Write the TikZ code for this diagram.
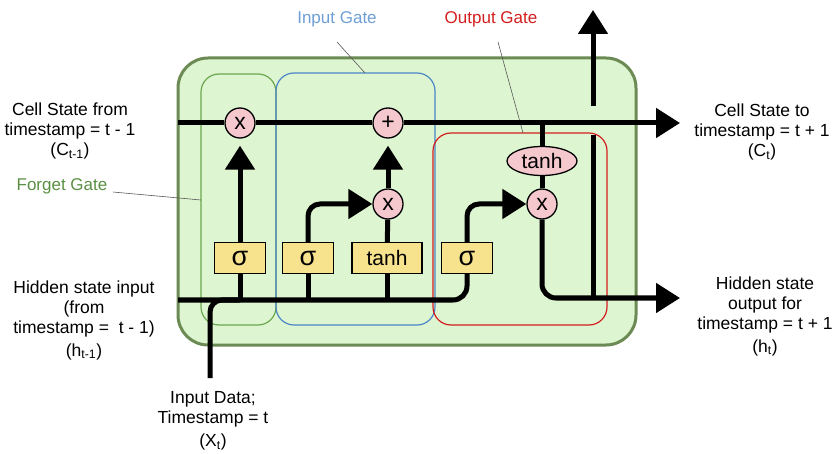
\documentclass[tikz,border=0pt]{standalone}
\usepackage{fontspec}
\setmainfont{Liberation Sans}
\usetikzlibrary{arrows.meta,shapes.geometric}

\definecolor{cellfill}{RGB}{222,245,209}
\definecolor{cellline}{RGB}{108,138,84}
\definecolor{forgetc}{RGB}{106,168,79}
\definecolor{inputc}{RGB}{74,134,200}
\definecolor{outputc}{RGB}{210,30,30}
\definecolor{oppink}{RGB}{245,200,205}
\definecolor{actyellow}{RGB}{247,226,142}

\tikzset{
  wire/.style={line width=5pt},
  arr/.style={-{Triangle[length=24pt,width=29pt]}},
  op/.style={circle,draw,line width=1.3pt,fill=oppink,minimum size=30pt,inner sep=0pt,
    font=\fontsize{23}{23}\selectfont},
  act/.style={rectangle,draw,line width=1.3pt,fill=actyellow,minimum height=31pt,inner sep=0pt,
    font=\fontsize{27}{27}\selectfont},
  lbl/.style={align=center,font=\fontsize{17.5}{20}\selectfont},
  gatelbl/.style={font=\fontsize{17}{17}\selectfont},
  gatebox/.style={line width=1.2pt,rounded corners=18pt},
  pointer/.style={line width=0.6pt,black!65}
}

\begin{document}
\begin{tikzpicture}[x=1pt,y=-1pt]
\useasboundingbox (0,0) rectangle (835,454);

% LSTM cell
\draw[line width=3pt,draw=cellline,fill=cellfill,rounded corners=30pt] (178,58) rectangle (636,345);

% Gate outlines
\draw[gatebox,forgetc] (201,74) rectangle (276,325);
\draw[gatebox,inputc] (276,73) rectangle (435,325);
\draw[gatebox,outputc] (433,133) rectangle (607,325);

% Gate labels
\node[gatelbl,text=forgetc!85!black] (flbl) at (62,186) {Forget Gate};
\node[gatelbl,text=inputc!80!white] (ilbl) at (337,19) {Input Gate};
\node[gatelbl,text=outputc] (olbl) at (491,19) {Output Gate};
\draw[pointer] (flbl.east) ++(2,6) -- (201,200);
\draw[pointer] (337,42) -- (365,73);
\draw[pointer] (498,42) -- (523,133);

% Operations
\node[op] (fmul) at (240,123) {x};
\node[op] (add) at (388,123) {+};
\node[op] (imul) at (388,204) {x};
\node[op] (omul) at (542,204) {x};
\node[ellipse,draw,line width=1.3pt,fill=oppink,minimum width=70pt,minimum height=29pt,
  inner sep=0pt,font=\fontsize{21}{21}\selectfont] (otanh) at (542,161) {tanh};

% Activations
\node[act,minimum width=51pt] (fsig) at (240,258) {σ};
\node[act,minimum width=51pt] (isig) at (308,258) {σ};
\node[act,minimum width=70pt,font=\fontsize{21}{21}\selectfont] (itanh) at (387,258) {tanh};
\node[act,minimum width=51pt] (osig) at (467,258) {σ};

% Ends of the wires
\coordinate (cin) at (178,123);
\coordinate (cout) at (680,123);
\coordinate (hin) at (178,300);
\coordinate (hout) at (680,298);
\coordinate (xin) at (210,378);
\coordinate (tap) at (593,298);
\coordinate (tapend) at (593,135);
\coordinate (upin) at (593,106);
\coordinate (upout) at (593,10);

% Cell state
\draw[wire,arr] (cin) -- (fmul) -- (add) -- (cout);

% Hidden state and input
\draw[wire,rounded corners=14pt] (hin) -| (osig.south);
\draw[wire,rounded corners=12pt] (xin) |- (fsig.south |- hin);
\draw[wire] (fsig.south |- hin) -- (fsig);
\draw[wire] (isig.south |- hin) -- (isig);
\draw[wire] (itanh.south |- hin) -- (itanh);

% Forget gate
\draw[wire,arr,shorten >=7pt] (fsig) -- (fmul);

% Input gate
\draw[wire,arr,rounded corners=12pt] (isig.north) |- (imul);
\draw[wire] (itanh) -- (imul);
\draw[wire,arr,shorten >=7pt] (imul) -- (add);

% Output gate
\draw[wire,arr,rounded corners=12pt] (osig.north) |- (omul);
\draw[wire] (otanh) -- (otanh |- cin);
\draw[wire] (otanh) -- (omul);
\draw[wire,arr,rounded corners=14pt] (omul) |- (hout);
\draw[wire] (tap) -- (tapend);
\draw[wire,arr] (upin) -- (upout);

% Outside labels
\node[lbl] (cprev) at (70,131) {Cell State from\\timestamp = t - 1\\(C\textsubscript{t-1})};
\node[lbl] (hprev) at (84,320) {Hidden state input\\(from\\timestamp =\ \ t - 1)\\[3pt](h\textsubscript{t-1})};
\node[lbl] (cnext) at (762,132) {Cell State to\\timestamp = t + 1\\(C\textsubscript{t})};
\node[lbl] (hnext) at (765,316) {Hidden state\\output for\\timestamp = t + 1\\[3pt](h\textsubscript{t})};
\node[lbl] (xcur) at (213,421) {Input Data;\\Timestamp = t\\[3pt](X\textsubscript{t})};
\end{tikzpicture}
\end{document}
